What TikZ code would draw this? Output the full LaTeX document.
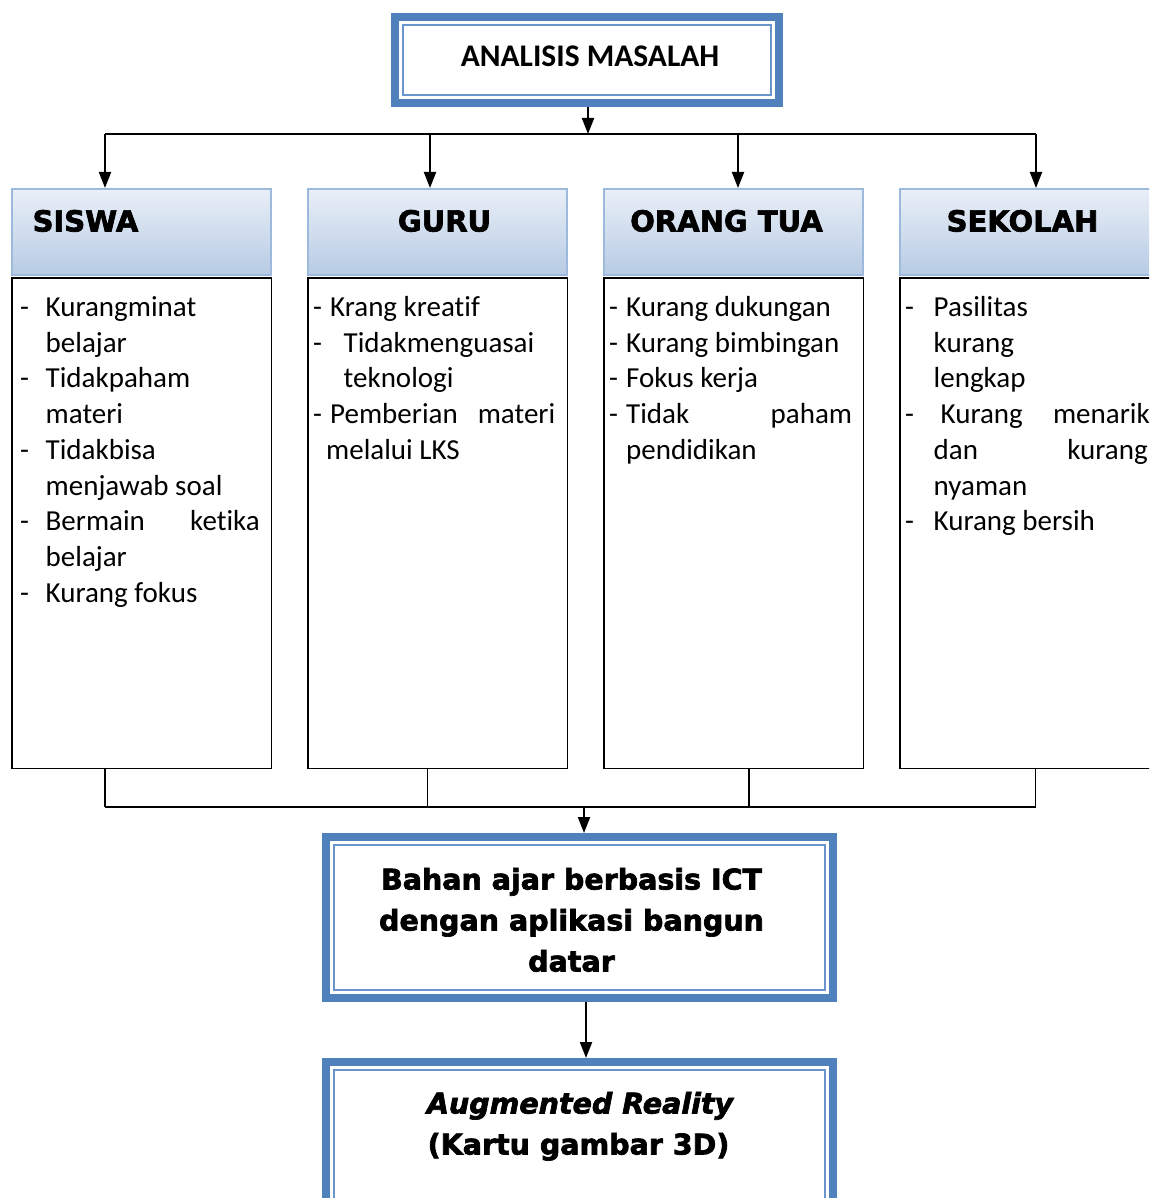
\documentclass[tikz,border=0pt]{standalone}
\usepackage{fontspec}
\setmainfont{Carlito}[Ligatures=NoCommon]
\newfontfamily\blk{DejaVu Sans}[BoldFeatures={FakeBold=2.4},BoldItalicFeatures={FakeBold=2.4}]
\usetikzlibrary{arrows.meta,calc}
\definecolor{ob}{HTML}{4F81BD}
\definecolor{ib}{HTML}{6A95CC}
\definecolor{hb}{HTML}{9DB9DC}
\definecolor{htop}{HTML}{E9EFF7}
\definecolor{hbot}{HTML}{B7CBE4}
\begin{document}
\begin{tikzpicture}[x=1pt,y=-1pt,
 dbl/.style={draw=ob,line width=8pt,inner sep=0pt},
 head/.style={draw=hb,line width=2pt,top color=htop,bottom color=hbot,minimum width=259pt,minimum height=86pt,inner sep=0pt},
 body/.style={draw=black,line width=1.5pt,minimum width=259.5pt,minimum height=490.5pt,inner sep=0pt},
 htxt/.style={font=\blk\bfseries\fontsize{29}{35}\selectfont,inner sep=0pt,anchor=base},
 li/.style={font=\fontsize{29}{35.7}\selectfont,inner sep=0pt,anchor=base west},
 conn/.style={line width=2pt},
 arr/.style={line width=2pt,-{Triangle[length=16pt,width=12pt]}},
 btxt/.style={font=\blk\bfseries\fontsize{28.5}{41}\selectfont,inner sep=0pt,anchor=base},
 thin/.style={draw=ib,line width=2pt}
]
\useasboundingbox (0,0) rectangle (1149,1198);
\clip (0,0) rectangle (1149,1198);

% top box
\node[dbl,minimum width=384pt,minimum height=86pt] (top) at (587,60) {};
\draw[thin] ([shift={(12,12)}]top.north west) rectangle ([shift={(-12,-12)}]top.south east);
\node[font=\bfseries\fontsize{31.5}{36}\selectfont,inner sep=0pt,anchor=base] (ttop) at (590,67) {ANALISIS MASALAH};

% bodies
\node[body] (c1) at (141.5,523) {};
\node[body] (c2) at (437.5,523) {};
\node[body] (c3) at (733.5,523) {};
\node[body] (c4) at (1029.5,523) {};

% headers
\node[head] (h1) at (141.5,232) {};
\node[head] (h2) at (437.5,232) {};
\node[head] (h3) at (733.5,232) {};
\node[head] (h4) at (1029.5,232) {};
\node[htxt] (t1) at (85.5,231.5) {SISWA};
\node[htxt] (t2) at (444.5,231.5) {GURU};
\node[htxt] (t3) at (726.5,231.5) {ORANG TUA};
\node[htxt] (t4) at (1022.5,231.5) {SEKOLAH};

% SISWA list
\node[li] (s1d) at (20,316.5) {-};
\node[li] (s1) at (45.5,316.5) {Kurangminat};
\node[li] (s1b) at (45.5,352.2) {belajar};
\node[li] (s2d) at (20,387.9) {-};
\node[li] (s2) at (45.5,387.9) {Tidakpaham};
\node[li] (s2b) at (45.5,423.6) {materi};
\node[li] (s3d) at (20,459.3) {-};
\node[li] (s3) at (45.5,459.3) {Tidakbisa};
\node[li] (s3b) at (45.5,495) {menjawab soal};
\node[li] (s4d) at (20,530.7) {-};
\node[li] (s4) at (45.5,530.7) {\makebox[214pt][s]{Bermain ketika}};
\node[li] (s4b) at (45.5,566.4) {belajar};
\node[li] (s5d) at (20,602.1) {-};
\node[li] (s5) at (45.5,602.1) {Kurang fokus};

% GURU list
\node[li] (g1d) at (313,316.5) {-};
\node[li] (g1) at (330,316.5) {Krang kreatif};
\node[li] (g2d) at (313,352.2) {-};
\node[li] (g2) at (343.5,352.2) {Tidakmenguasai};
\node[li] (g2b) at (343.5,387.9) {teknologi};
\node[li] (g3d) at (313,423.6) {-};
\node[li] (g3) at (330,423.6) {\makebox[225pt][s]{Pemberian materi}};
\node[li] (g3b) at (326,459.3) {melalui LKS};

% ORANG TUA list
\node[li] (o1d) at (609,316.5) {-};
\node[li] (o1) at (626,316.5) {Kurang dukungan};
\node[li] (o2d) at (609,352.2) {-};
\node[li] (o2) at (626,352.2) {Kurang bimbingan};
\node[li] (o3d) at (609,387.9) {-};
\node[li] (o3) at (626,387.9) {Fokus kerja};
\node[li] (o4d) at (609,423.6) {-};
\node[li] (o4) at (626,423.6) {\makebox[226pt][s]{Tidak paham}};
\node[li] (o4b) at (626,459.3) {pendidikan};

% SEKOLAH list
\node[li] (k1d) at (905,316.5) {-};
\node[li] (k1) at (933.5,316.5) {Pasilitas};
\node[li] (k1b) at (933.5,352.2) {kurang};
\node[li] (k1c) at (933.5,387.9) {lengkap};
\node[li] (k2d) at (905,423.6) {-};
\node[li] (k2) at (940.5,423.6) {\makebox[209pt][s]{Kurang menarik}};
\node[li] (k2b) at (933.5,459.3) {\makebox[214pt][s]{dan kurang}};
\node[li] (k2c) at (933.5,495) {nyaman};
\node[li] (k3d) at (905,530.7) {-};
\node[li] (k3) at (933.5,530.7) {Kurang bersih};

% top connectors
\coordinate (jt) at (588,134);
\coordinate (ja) at (105,134);
\coordinate (jb) at (430,134);
\coordinate (jc) at (738,134);
\coordinate (jd) at (1036,134);
\draw[arr] (top.south -| jt) -- (jt);
\draw[conn] (ja) -- (jd);
\draw[arr] (ja) -- (ja |- h1.north);
\draw[arr] (jb) -- (jb |- h2.north);
\draw[arr] (jc) -- (jc |- h3.north);
\draw[arr] (jd) -- (jd |- h4.north);

% lower boxes
\node[dbl,minimum width=507pt,minimum height=161pt] (b2) at (579.5,917.5) {};
\draw[thin] ([shift={(12,12)}]b2.north west) rectangle ([shift={(-12,-12)}]b2.south east);
\node[dbl,minimum width=507pt,minimum height=161pt] (b3) at (579.5,1142.5) {};
\draw[thin] ([shift={(12,12)}]b3.north west) rectangle ([shift={(-12,-12)}]b3.south east);

\node[btxt] (bt1) at (571.5,889.5) {Bahan ajar berbasis ICT};
\node[btxt] (bt2) at (571.5,930.5) {dengan aplikasi bangun};
\node[btxt] (bt3) at (571.5,971.5) {datar};
\node[btxt,font=\blk\bfseries\itshape\fontsize{28.5}{41}\selectfont] (ct1) at (580,1113.5) {Augmented Reality};
\node[btxt] (ct2) at (578.5,1154.5) {(Kartu gambar 3D)};

% bottom connectors
\coordinate (ka) at (105,807);
\coordinate (kb) at (427.5,807);
\coordinate (kc) at (749,807);
\coordinate (kd) at (1035.5,807);
\coordinate (km) at (584,807);
\draw[conn,line width=1.6pt] (c1.south -| ka) -- (ka);
\draw[conn,line width=1.6pt] (c2.south -| kb) -- (kb);
\draw[conn,line width=1.6pt] (c3.south -| kc) -- (kc);
\draw[conn,line width=1.6pt] (c4.south -| kd) -- (kd);
\draw[conn,line width=1.6pt] (ka) -- (kd);
\draw[arr] (km) -- (km |- b2.north);
\coordinate (kx) at (586,0);
\draw[arr] (b2.south -| kx) -- (b3.north -| kx);
\end{tikzpicture}
\end{document}
